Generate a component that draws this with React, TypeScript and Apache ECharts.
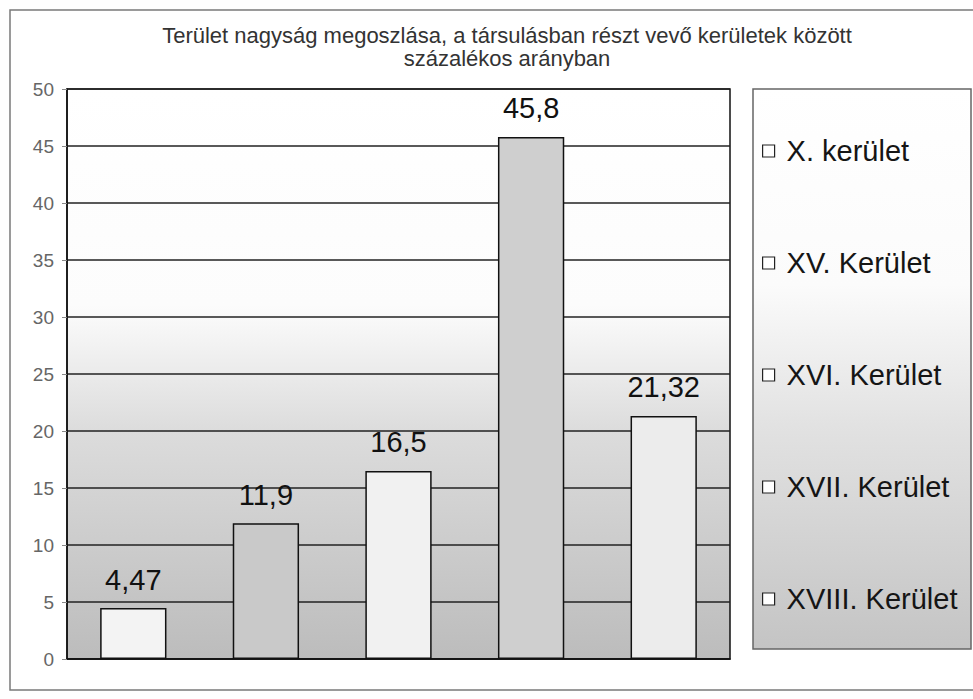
import React, { useEffect, useRef } from "react";
import * as echarts from "echarts";

const titleLines = [
  "Terület nagyság megoszlása, a társulásban részt vevő kerületek között",
  "százalékos arányban",
];
const districts = ["X. kerület", "XV. Kerület", "XVI. Kerület", "XVII. Kerület", "XVIII. Kerület"];
const shares = [4.47, 11.9, 16.5, 45.8, 21.32];
const barColors = ["#f3f3f3", "#c9c9c9", "#f1f1f1", "#cfcfcf", "#ececec"];
const yMin = 0;
const yMax = 50;
const yStep = 5;

const FONT = "'Liberation Sans', Arial, sans-serif";

export default function App() {
  const ref = useRef<HTMLDivElement>(null);
  useEffect(() => {
    if (!ref.current) return;
    const chart = echarts.init(ref.current, undefined, { renderer: "svg" });
    const grayGrad = (stops: [number, string][]) =>
      new echarts.graphic.LinearGradient(0, 0, 0, 1, stops.map(([offset, color]) => ({ offset, color })));

    const series = districts.map((name, i) => ({
      name,
      type: "bar",
      barWidth: "50%",
      barGap: "-100%",
      data: shares.map((v, j) => (j === i ? v : null)),
      itemStyle: { color: barColors[i], borderColor: "#111", borderWidth: 1.5 },
      label: {
        show: true,
        position: "top",
        distance: 14,
        fontSize: 29,
        color: "#111",
        fontFamily: FONT,
        formatter: (p: any) => String(p.value).replace(".", ","),
      },
    }));

    chart.setOption({
      animation: false,
      backgroundColor: "#ffffff",
      textStyle: { fontFamily: FONT },
      title: {
        text: titleLines.join("\n"),
        left: 502,
        textAlign: "center",
        top: 19,
        textStyle: { fontSize: 22, fontWeight: "normal", color: "#333", lineHeight: 23, fontFamily: FONT },
      },
      graphic: [
        {
          type: "rect",
          shape: { x: 10, y: 10, width: 990, height: 680 },
          style: { fill: "none", stroke: "#7a7a7a", lineWidth: 1.5 },
          silent: true,
          z: -10,
        },
        {
          type: "rect",
          shape: { x: 753, y: 89, width: 218, height: 560 },
          style: {
            fill: grayGrad([
              [0, "#ffffff"],
              [0.35, "#fbfbfb"],
              [0.6, "#e2e2e2"],
              [1, "#c4c4c4"],
            ]),
            stroke: "#666",
            lineWidth: 1.5,
          },
          silent: true,
          z: -5,
        },
      ],
      legend: {
        orient: "vertical",
        left: 757,
        top: 131,
        itemWidth: 12,
        itemHeight: 12,
        itemGap: 82,
        icon: "rect",
        itemStyle: { color: "#ffffff", borderColor: "#222", borderWidth: 1.2 },
        textStyle: { fontSize: 29, color: "#151515", lineHeight: 30, fontFamily: FONT, padding: [0, 0, 0, 7] },
        data: districts,
      },
      grid: {
        left: 67,
        right: 973 - 730,
        top: 89,
        bottom: 699 - 659,
        show: true,
        borderColor: "#111",
        borderWidth: 1.5,
        backgroundColor: grayGrad([
          [0, "#ffffff"],
          [0.38, "#fcfcfc"],
          [0.6, "#dcdcdc"],
          [1, "#bcbcbc"],
        ]),
      },
      xAxis: {
        type: "category",
        data: districts,
        axisLine: { show: true, lineStyle: { color: "#111", width: 1.5 } },
        axisTick: { show: false },
        axisLabel: { show: false },
      },
      yAxis: {
        type: "value",
        min: yMin,
        max: yMax,
        interval: yStep,
        axisLine: { show: true, lineStyle: { color: "#111", width: 1.5 } },
        axisTick: { show: true, length: 5, lineStyle: { color: "#888" } },
        axisLabel: { fontSize: 19, color: "#666", margin: 13, fontFamily: FONT },
        splitLine: { show: true, lineStyle: { color: "#222", width: 1.5 } },
      },
      series,
    });
    return () => chart.dispose();
  }, []);
  return (
    <div
      ref={ref}
      style={{ position: "fixed", left: 0, top: 0, width: 973, height: 699 }}
    />
  );
}
